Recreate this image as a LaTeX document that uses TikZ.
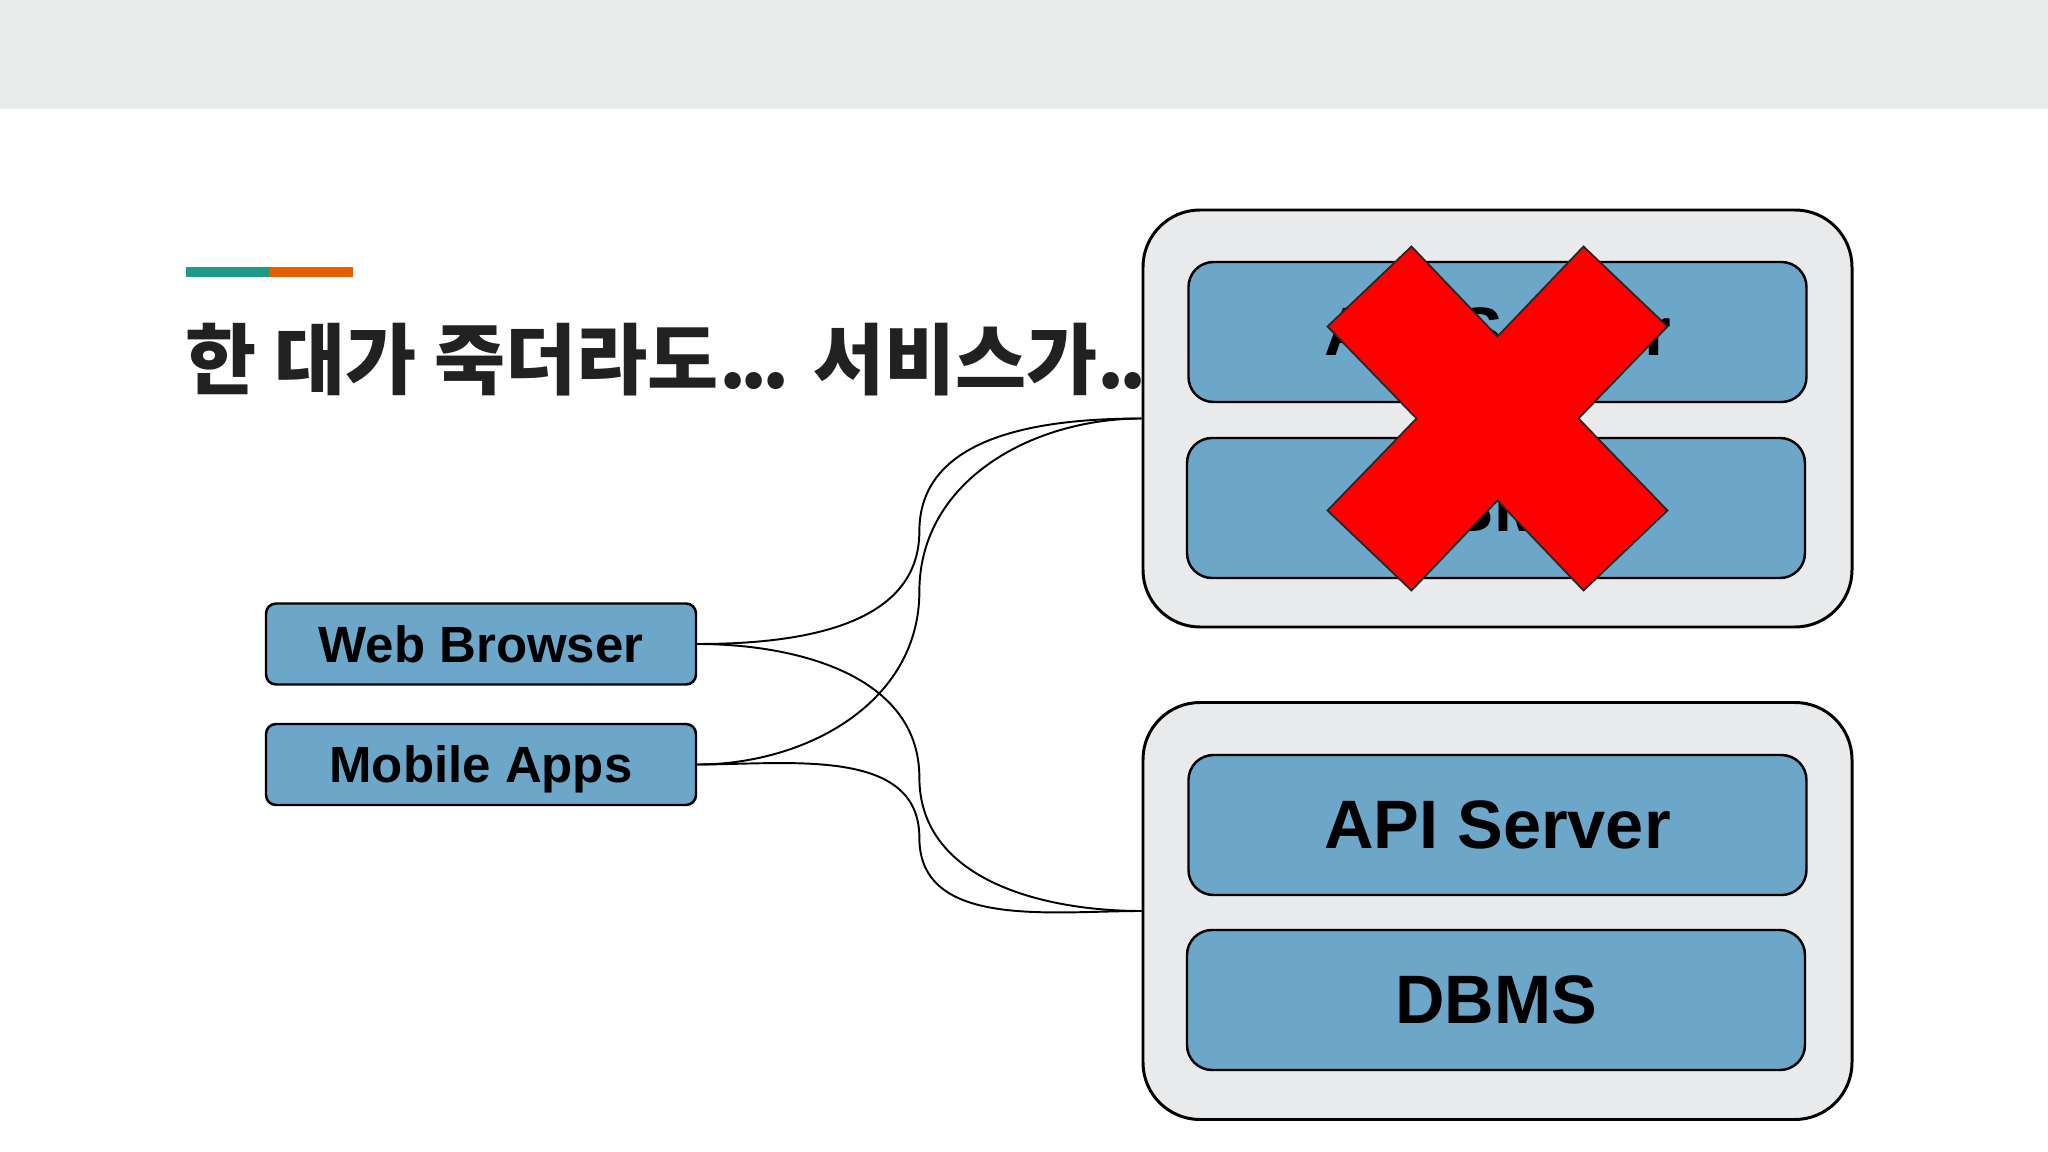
\documentclass[tikz,border=0pt]{standalone}
\usepackage{fontspec}
\setmainfont{Liberation Sans}
\newfontfamily\krfont{Noto Sans CJK KR}
\definecolor{slidegray}{RGB}{232,237,236}
\definecolor{slideteal}{RGB}{30,154,136}
\definecolor{slideorange}{RGB}{230,95,0}
\definecolor{titlegray}{RGB}{33,33,33}
\definecolor{hostgray}{RGB}{232,234,236}
\definecolor{boxblue}{RGB}{108,166,201}
\definecolor{crossred}{RGB}{255,0,0}
\usetikzlibrary{calc}
\newcommand{\tightdots}{.\kern-.07em.\kern-.07em.}

\begin{document}
\begin{tikzpicture}[
    hostbox/.style={rectangle, rounded corners=0.57cm, minimum width=7.09cm,
                    minimum height=4.17cm, inner sep=0pt, fill=hostgray, draw=black, line width=0.85pt},
    appbox/.style={rectangle, rounded corners=0.25cm, minimum width=6.18cm,
                   minimum height=1.40cm, inner sep=0pt, fill=boxblue, draw=black, line width=0.7pt,
                   text depth=0pt, font=\fontsize{19.5}{22}\selectfont\bfseries},
    clientbox/.style={rectangle, rounded corners=0.1cm, minimum width=4.30cm,
                      minimum height=0.81cm, inner sep=0pt, fill=boxblue, draw=black, line width=0.7pt,
                      text depth=0pt, font=\fontsize{14.5}{17}\selectfont\bfseries},
    wire/.style={line width=0.55pt, black}
  ]
    \useasboundingbox (0,0) rectangle (20.48,-11.52);
    \fill[white] (0,0) rectangle (20.48,-11.52);

    % slide header
    \fill[slidegray] (0,0) rectangle (20.48,-1.09);
    \fill[slideteal] (1.86,-2.67) rectangle (2.70,-2.77);
    \fill[slideorange] (2.70,-2.67) rectangle (3.53,-2.77);
    \node[anchor=base west, inner sep=0pt, text=titlegray,
          font=\krfont\bfseries\fontsize{22}{26}\selectfont] (title) at (1.85,-3.89)
      {한 대가 죽더라도\tightdots{} 서비스가\tightdots};

    % hosts
    \node[hostbox] (top) at (14.975,-4.185) {};
    \node[appbox] (api1) at (14.975,-3.32) {API Server};
    \node[appbox] (db1) at (14.96,-5.08) {DBMS};

    \node[hostbox] (bot) at (14.975,-9.11) {};
    \node[appbox] (api2) at (14.975,-8.25) {API Server};
    \node[appbox] (db2) at (14.96,-10.00) {DBMS};

    % clients
    \node[clientbox] (wb) at (4.81,-6.44) {Web Browser};
    \node[clientbox] (ma) at (4.81,-7.645) {Mobile Apps};

    \draw[wire] (wb.east) to[out=0,in=-90] ($(wb.east)!0.5!(top.west)$) to[out=90,in=180] (top.west);
    \draw[wire] (ma.east) to[out=0,in=-90] ($(ma.east)!0.5!(top.west)$) to[out=90,in=180] (top.west);
    \draw[wire] (wb.east) to[out=0,in=90] ($(wb.east)!0.5!(bot.west)$) to[out=-90,in=180] (bot.west);
    \draw[wire] (ma.east) to[out=0,in=90] ($(ma.east)!0.5!(bot.west)$) to[out=-90,in=180] (bot.west);

    % dead host
    \draw[fill=crossred, draw=black!85, line width=0.5pt, shift={(top.center)}]
      (-0.86,1.72) -- (0,0.82) -- (0.86,1.72) -- (1.70,0.92) -- (0.81,0)
      -- (1.70,-0.92) -- (0.86,-1.72) -- (0,-0.82) -- (-0.86,-1.72)
      -- (-1.70,-0.92) -- (-0.81,0) -- (-1.70,0.92) -- cycle;
  \end{tikzpicture}
\end{document}
